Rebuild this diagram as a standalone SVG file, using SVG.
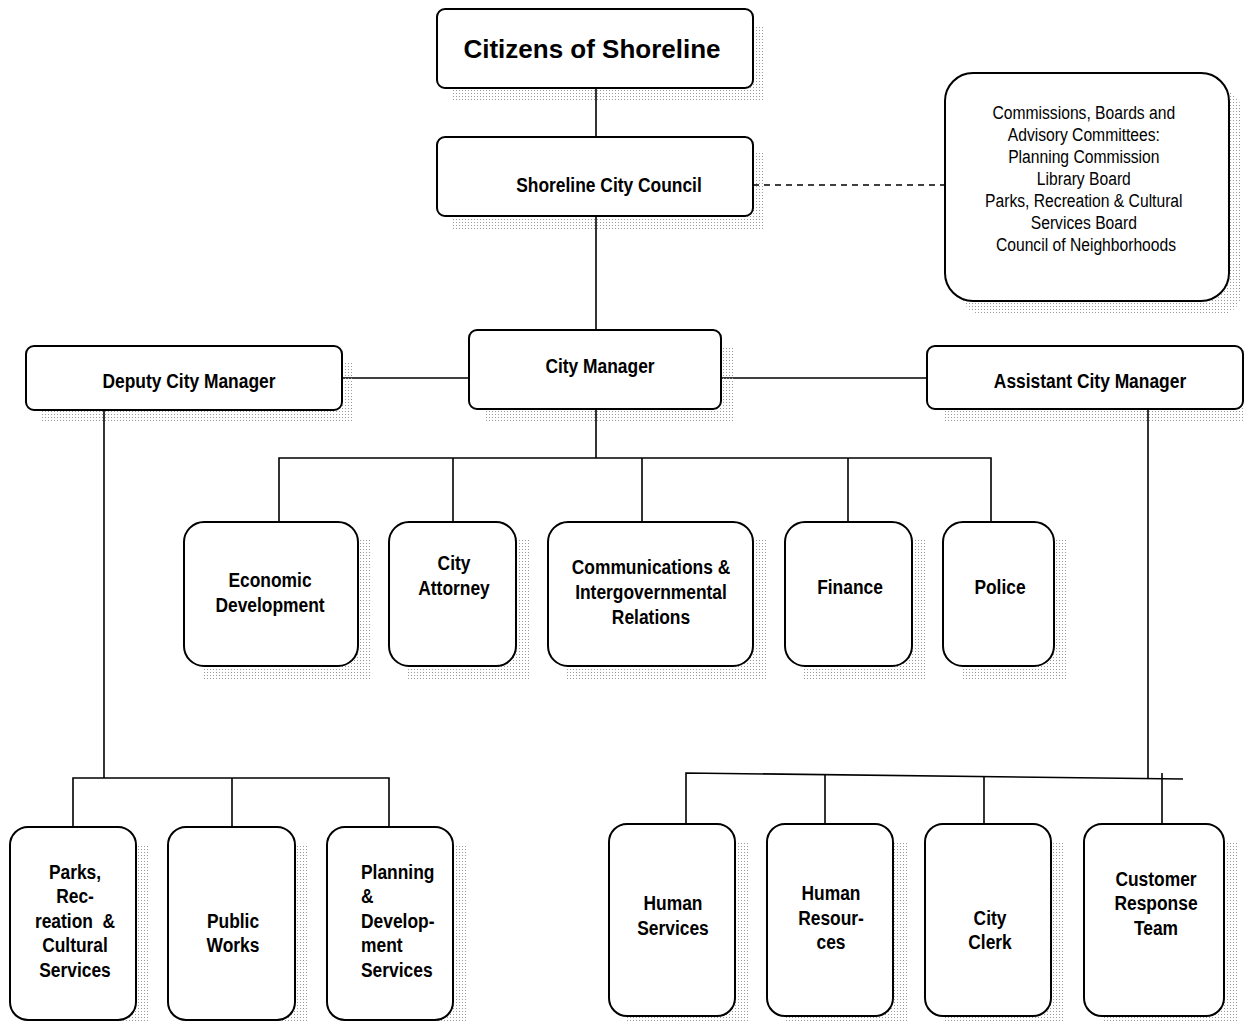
<svg xmlns="http://www.w3.org/2000/svg" width="1244" height="1023" viewBox="0 0 1244 1023">
<style>
.box{fill:#fff;stroke:#000;stroke-width:2}
.sh{fill:url(#dots)}
.t{font-family:"Liberation Sans",Arial,sans-serif;font-weight:bold;font-size:20px;text-anchor:middle;fill:#000}
.r{font-family:"Liberation Sans",Arial,sans-serif;font-size:18px;text-anchor:middle;fill:#000}
.c{stroke:#000;stroke-width:1.6;fill:none}
</style>
<defs>
<pattern id="dots" width="3" height="3" patternUnits="userSpaceOnUse">
<rect x="0" y="0" width="1" height="1" fill="#9a9a9a"/>
</pattern>
</defs>
<rect width="1244" height="1023" fill="#fff"/>
<g id="connectors">
<line class="c" x1="596" y1="88" x2="596" y2="137"/>
<line class="c" x1="596" y1="216" x2="596" y2="330"/>
<line class="c" x1="753" y1="185" x2="945" y2="185" stroke-dasharray="6,5"/>
<line class="c" x1="342" y1="378" x2="469" y2="378"/>
<line class="c" x1="721" y1="378" x2="927" y2="378"/>
<line class="c" x1="596" y1="409" x2="596" y2="458"/>
<polyline class="c" points="279,522 279,458 991,458 991,522"/>
<line class="c" x1="453" y1="458" x2="453" y2="522"/>
<line class="c" x1="642" y1="458" x2="642" y2="522"/>
<line class="c" x1="848" y1="458" x2="848" y2="522"/>
<line class="c" x1="104" y1="410" x2="104" y2="778"/>
<polyline class="c" points="73,827 73,778 389,778 389,827"/>
<line class="c" x1="232" y1="778" x2="232" y2="827"/>
<line class="c" x1="1148" y1="410" x2="1148" y2="779"/>
<polyline class="c" points="686,824 686,773 1183,779"/>
<line class="c" x1="825" y1="774" x2="825" y2="824"/>
<line class="c" x1="984" y1="776" x2="984" y2="824"/>
<line class="c" x1="1162" y1="773" x2="1162" y2="824"/>
</g>
<g id="citizens">
<rect class="sh" x="452" y="25" width="313" height="77"/>
<rect class="box" x="437" y="9" width="316" height="79" rx="8"/>
<text class="t" style="font-size:26px" x="592" y="58">Citizens of Shoreline</text>
</g>
<g id="council">
<rect class="sh" x="452" y="153" width="313" height="77"/>
<rect class="box" x="437" y="137" width="316" height="79" rx="8"/>
<text class="t" transform="translate(609 0) scale(0.87 1)" x="0" y="192">Shoreline City Council</text>
</g>
<g id="commissions">
<rect class="sh" x="962" y="90" width="279" height="224" rx="20"/>
<rect class="box" x="945" y="73" width="284" height="228" rx="28"/>
<text class="r" transform="translate(1086 0) scale(0.87 1)">
<tspan x="0" y="119">Commissions, Boards and</tspan>
<tspan x="0" y="141">Advisory Committees:</tspan>
<tspan x="0" y="163">Planning Commission</tspan>
<tspan x="0" y="185">Library Board</tspan>
<tspan x="0" y="207">Parks, Recreation &amp; Cultural</tspan>
<tspan x="0" y="229">Services Board</tspan>
<tspan x="0" y="251">Council of Neighborhoods</tspan>
</text>
</g>
<g id="deputy">
<rect class="sh" x="42" y="362" width="312" height="60"/>
<rect class="box" x="26" y="346" width="316" height="64" rx="8"/>
<text class="t" transform="translate(189 0) scale(0.87 1)" x="0" y="388">Deputy City Manager</text>
</g>
<g id="citymanager">
<rect class="sh" x="485" y="346" width="249" height="77"/>
<rect class="box" x="469" y="330" width="252" height="79" rx="8"/>
<text class="t" transform="translate(600 0) scale(0.87 1)" x="0" y="373">City Manager</text>
</g>
<g id="assistant">
<rect class="sh" x="943" y="362" width="301" height="60"/>
<rect class="box" x="927" y="346" width="316" height="63" rx="8"/>
<text class="t" transform="translate(1090 0) scale(0.87 1)" x="0" y="388">Assistant City Manager</text>
</g>
<g id="economic">
<rect class="sh" x="202" y="540" width="170" height="140"/>
<rect class="box" x="184" y="522" width="174" height="144" rx="20"/>
<text class="t" transform="translate(270 0) scale(0.87 1)"><tspan x="0" y="587">Economic</tspan><tspan x="0" y="612">Development</tspan></text>
</g>
<g id="attorney">
<rect class="sh" x="407" y="540" width="123" height="140"/>
<rect class="box" x="389" y="522" width="127" height="144" rx="20"/>
<text class="t" transform="translate(454 0) scale(0.87 1)"><tspan x="0" y="570">City</tspan><tspan x="0" y="595">Attorney</tspan></text>
</g>
<g id="communications">
<rect class="sh" x="566" y="540" width="201" height="140"/>
<rect class="box" x="548" y="522" width="205" height="144" rx="20"/>
<text class="t" transform="translate(651 0) scale(0.87 1)"><tspan x="0" y="574">Communications &amp;</tspan><tspan x="0" y="599">Intergovernmental</tspan><tspan x="0" y="624">Relations</tspan></text>
</g>
<g id="finance">
<rect class="sh" x="803" y="540" width="123" height="140"/>
<rect class="box" x="785" y="522" width="127" height="144" rx="20"/>
<text class="t" transform="translate(850 0) scale(0.87 1)" x="0" y="594">Finance</text>
</g>
<g id="police">
<rect class="sh" x="961" y="540" width="107" height="140"/>
<rect class="box" x="943" y="522" width="111" height="144" rx="20"/>
<text class="t" transform="translate(1000 0) scale(0.87 1)" x="0" y="594">Police</text>
</g>
<g id="parks">
<rect class="sh" x="28" y="845" width="122" height="178"/>
<rect class="box" x="10" y="827" width="126" height="193" rx="18"/>
<text class="t" transform="translate(75 0) scale(0.87 1)"><tspan x="0" y="879">Parks,</tspan><tspan x="0" y="903">Rec-</tspan><tspan x="0" y="928" xml:space="preserve">reation  &amp;</tspan><tspan x="0" y="952">Cultural</tspan><tspan x="0" y="977">Services</tspan></text>
</g>
<g id="publicworks">
<rect class="sh" x="186" y="845" width="123" height="178"/>
<rect class="box" x="168" y="827" width="127" height="193" rx="18"/>
<text class="t" transform="translate(233 0) scale(0.87 1)"><tspan x="0" y="928">Public</tspan><tspan x="0" y="952">Works</tspan></text>
</g>
<g id="planning">
<rect class="sh" x="345" y="845" width="122" height="178"/>
<rect class="box" x="327" y="827" width="126" height="193" rx="18"/>
<text class="t" style="text-anchor:start" transform="translate(361 0) scale(0.87 1)"><tspan x="0" y="879">Planning</tspan><tspan x="0" y="903">&amp;</tspan><tspan x="0" y="928">Develop-</tspan><tspan x="0" y="952">ment</tspan><tspan x="0" y="977">Services</tspan></text>
</g>
<g id="humanservices">
<rect class="sh" x="627" y="842" width="122" height="181"/>
<rect class="box" x="609" y="824" width="126" height="192" rx="18"/>
<text class="t" transform="translate(673 0) scale(0.87 1)"><tspan x="0" y="910">Human</tspan><tspan x="0" y="935">Services</tspan></text>
</g>
<g id="humanresources">
<rect class="sh" x="785" y="842" width="122" height="181"/>
<rect class="box" x="767" y="824" width="126" height="192" rx="18"/>
<text class="t" transform="translate(831 0) scale(0.87 1)"><tspan x="0" y="900">Human</tspan><tspan x="0" y="925">Resour-</tspan><tspan x="0" y="949">ces</tspan></text>
</g>
<g id="cityclerk">
<rect class="sh" x="943" y="842" width="122" height="181"/>
<rect class="box" x="925" y="824" width="126" height="192" rx="18"/>
<text class="t" transform="translate(990 0) scale(0.87 1)"><tspan x="0" y="925">City</tspan><tspan x="0" y="949">Clerk</tspan></text>
</g>
<g id="customer">
<rect class="sh" x="1102" y="842" width="136" height="181"/>
<rect class="box" x="1084" y="824" width="140" height="192" rx="18"/>
<text class="t" transform="translate(1156 0) scale(0.87 1)"><tspan x="0" y="886">Customer</tspan><tspan x="0" y="910">Response</tspan><tspan x="0" y="935">Team</tspan></text>
</g>
</svg>
